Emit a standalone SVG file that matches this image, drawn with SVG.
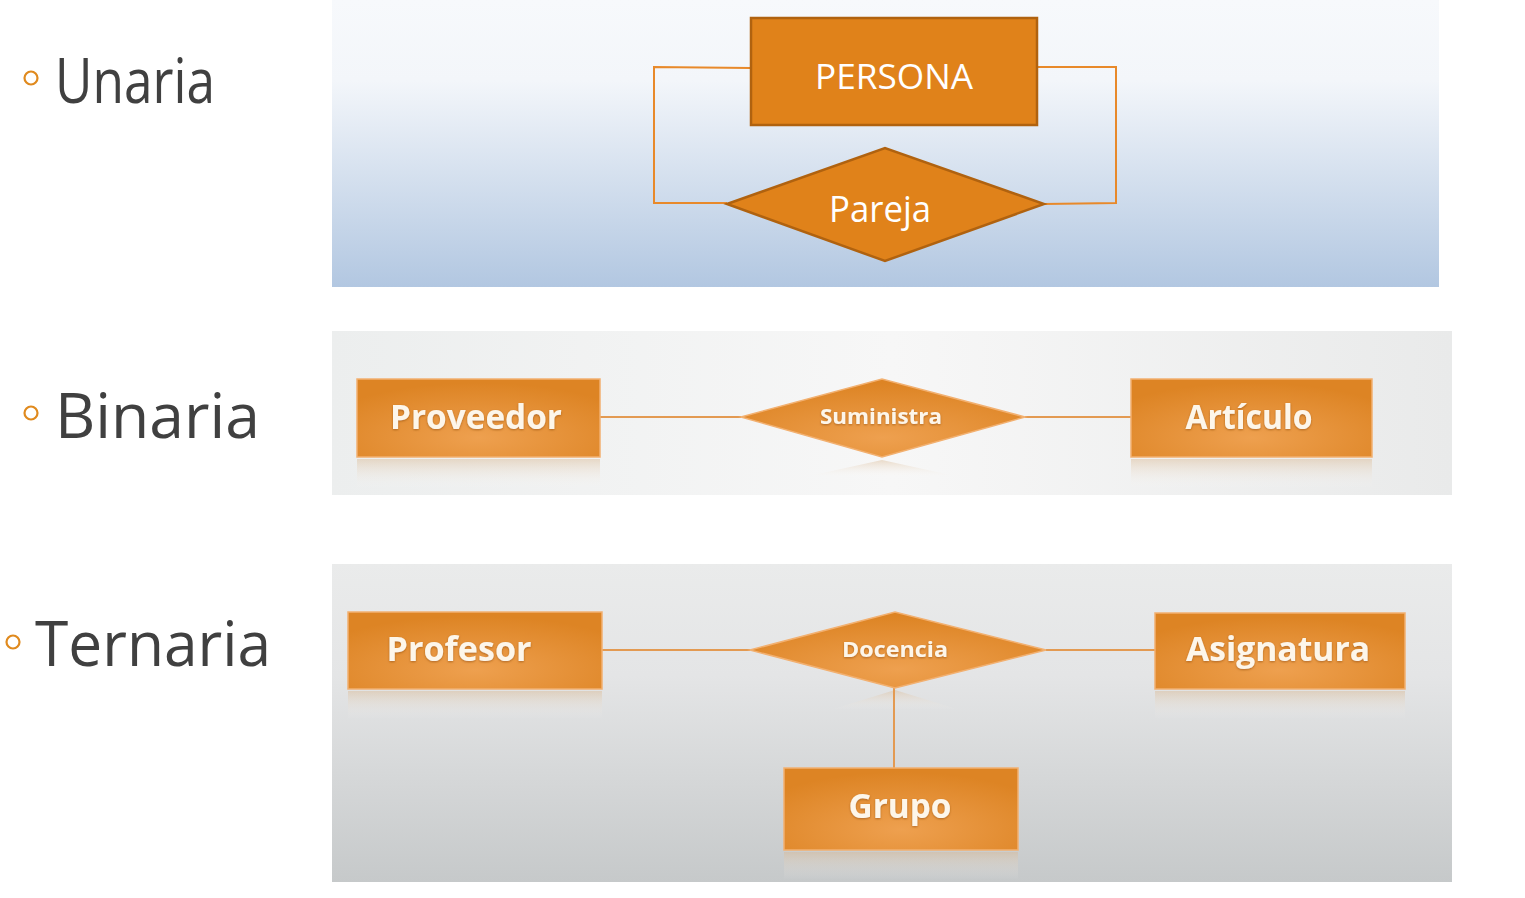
<svg xmlns="http://www.w3.org/2000/svg" width="1525" height="898" viewBox="0 0 1525 898">
<defs>
<linearGradient id="bgU" x1="0" y1="0" x2="0" y2="1">
<stop offset="0" stop-color="#f7f9fc"/><stop offset="0.28" stop-color="#f3f6fa"/><stop offset="1" stop-color="#b2c7e1"/>
</linearGradient>
<linearGradient id="bgB" x1="0" y1="0" x2="1" y2="0">
<stop offset="0" stop-color="#eceeee"/><stop offset="0.5" stop-color="#f7f7f7"/><stop offset="1" stop-color="#e9eaea"/>
</linearGradient>
<linearGradient id="bgT" x1="0" y1="0" x2="0" y2="1">
<stop offset="0" stop-color="#eaebeb"/><stop offset="0.35" stop-color="#e4e5e6"/><stop offset="1" stop-color="#c6c9ca"/>
</linearGradient>
<radialGradient id="box" cx="0.5" cy="0.75" r="0.7">
<stop offset="0" stop-color="#eea04f"/><stop offset="1" stop-color="#dd8424"/>
</radialGradient>
<linearGradient id="refl" x1="0" y1="0" x2="0" y2="1">
<stop offset="0" stop-color="#d9b790" stop-opacity="0.45"/><stop offset="1" stop-color="#ffffff" stop-opacity="0"/>
</linearGradient>
<filter id="ts" x="-10%" y="-20%" width="120%" height="140%">
<feDropShadow dx="0" dy="1" stdDeviation="0.8" flood-color="#8a4a10" flood-opacity="0.6"/>
</filter>
</defs>
<style>
.lbl{font-family:"Open Sans","Noto Sans","Liberation Sans",sans-serif;fill:#404040}
.bul{fill:none;stroke:#e08a1e;stroke-width:2.2}
.ent{fill:#e0821a;stroke:#b0620f;stroke-width:2.5}
.ent2{fill:url(#box);stroke:#f2b070;stroke-width:1.5}
.wt{font-family:"Open Sans","Noto Sans","Liberation Sans",sans-serif;fill:#ffffff;text-anchor:middle}
.bt{font-family:"Open Sans","Noto Sans","Liberation Sans",sans-serif;fill:#fdf6ea;text-anchor:middle;font-weight:bold}
.ln{fill:none;stroke:#e8892a;stroke-width:2}
.ln2{fill:none;stroke:#e39a52;stroke-width:2}
</style>

<!-- left labels -->
<g id="label-unaria">
<circle class="bul" cx="31" cy="78" r="6.5"/>
<text class="lbl" x="55" y="103" font-size="62" textLength="160" lengthAdjust="spacingAndGlyphs">Unaria</text>
</g>
<g id="label-binaria">
<circle class="bul" cx="31" cy="413" r="6.5"/>
<text class="lbl" x="55" y="438" font-size="62" textLength="205" lengthAdjust="spacingAndGlyphs">Binaria</text>
</g>
<g id="label-ternaria">
<circle class="bul" cx="13" cy="642" r="6.5"/>
<text class="lbl" x="35" y="666" font-size="62" textLength="236" lengthAdjust="spacingAndGlyphs">Ternaria</text>
</g>

<!-- panels -->
<rect x="332" y="0" width="1107" height="287" fill="url(#bgU)"/>
<rect x="332" y="331" width="1120" height="164" fill="url(#bgB)"/>
<rect x="332" y="564" width="1120" height="318" fill="url(#bgT)"/>

<!-- reflections -->
<rect x="357" y="459" width="243" height="30" fill="url(#refl)"/>
<rect x="1131" y="459" width="241" height="30" fill="url(#refl)"/>
<polygon points="800,478 882,460 964,478" fill="url(#refl)"/>
<rect x="348" y="691" width="254" height="28" fill="url(#refl)"/>
<rect x="1155" y="691" width="250" height="28" fill="url(#refl)"/>
<rect x="784" y="852" width="234" height="28" fill="url(#refl)"/>
<polygon points="830,710 895,690 960,710" fill="url(#refl)"/>

<!-- connectors -->
<g id="connectors">
<polyline class="ln" points="751,68 654,67 654,203 727,203"/>
<polyline class="ln" points="1037,67 1116,67 1116,203 1044,204"/>
<line class="ln2" x1="600" y1="417" x2="741" y2="417"/>
<line class="ln2" x1="1025" y1="417" x2="1131" y2="417"/>
<line class="ln2" x1="602" y1="650" x2="750" y2="650"/>
<line class="ln2" x1="1046" y1="650" x2="1155" y2="650"/>
<line class="ln2" x1="894" y1="688" x2="894" y2="768"/>
</g>

<!-- Unaria -->
<g id="node-persona">
<rect class="ent" x="751" y="18" width="286" height="107"/>
<text class="wt" x="894" y="89" font-size="35" textLength="158" lengthAdjust="spacingAndGlyphs">PERSONA</text>
</g>
<g id="node-pareja">
<polygon class="ent" points="727,204 885,148 1044,204 885,261"/>
<text class="wt" x="880" y="222" font-size="36" textLength="102" lengthAdjust="spacingAndGlyphs">Pareja</text>
</g>

<!-- Binaria -->
<g id="node-proveedor">
<rect class="ent2" x="357" y="379" width="243" height="78"/>
<text class="bt" x="476" y="429" font-size="34" filter="url(#ts)" textLength="172" lengthAdjust="spacingAndGlyphs">Proveedor</text>
</g>
<g id="node-suministra">
<polygon class="ent2" points="741,417 882,379 1025,417 882,457"/>
<text class="bt" x="881" y="424" font-size="22" filter="url(#ts)" textLength="122" lengthAdjust="spacingAndGlyphs">Suministra</text>
</g>
<g id="node-articulo">
<rect class="ent2" x="1131" y="379" width="241" height="78"/>
<text class="bt" x="1249" y="429" font-size="34" filter="url(#ts)" textLength="127" lengthAdjust="spacingAndGlyphs">Artículo</text>
</g>

<!-- Ternaria -->
<g id="node-profesor">
<rect class="ent2" x="348" y="612" width="254" height="77"/>
<text class="bt" x="459" y="661" font-size="34" filter="url(#ts)" textLength="145" lengthAdjust="spacingAndGlyphs">Profesor</text>
</g>
<g id="node-docencia">
<polygon class="ent2" points="750,650 895,612 1046,650 895,688"/>
<text class="bt" x="895" y="657" font-size="22" filter="url(#ts)" textLength="106" lengthAdjust="spacingAndGlyphs">Docencia</text>
</g>
<g id="node-asignatura">
<rect class="ent2" x="1155" y="613" width="250" height="76"/>
<text class="bt" x="1278" y="661" font-size="34" filter="url(#ts)" textLength="184" lengthAdjust="spacingAndGlyphs">Asignatura</text>
</g>
<g id="node-grupo">
<rect class="ent2" x="784" y="768" width="234" height="82"/>
<text class="bt" x="900" y="818" font-size="34" filter="url(#ts)" textLength="103" lengthAdjust="spacingAndGlyphs">Grupo</text>
</g>
</svg>
